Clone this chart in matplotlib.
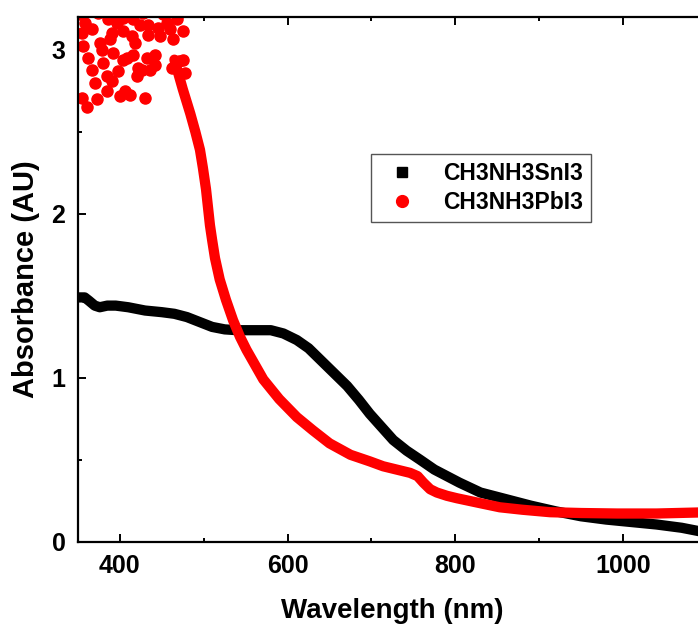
import matplotlib
matplotlib.use("Agg")
import matplotlib.pyplot as plt
from matplotlib.lines import Line2D
from matplotlib.ticker import MultipleLocator

plt.rcParams['font.family'] = ['Liberation Sans', 'DejaVu Sans']
plt.rcParams['font.weight'] = 'bold'

# CH3NH3SnI3 absorbance (smooth trace)
sn_wl = [350, 358, 363, 370, 376, 385, 395, 410, 430, 450, 465, 480, 495, 510, 525,
         540, 560, 580, 595, 611, 625, 639, 655, 671, 685, 698, 712, 726, 742, 758,
         775, 790, 805, 830, 860, 890, 920, 950, 980, 1010, 1040, 1070, 1090, 1100]
sn_abs = [1.49, 1.49, 1.47, 1.44, 1.43, 1.44, 1.44, 1.43, 1.41, 1.40, 1.39, 1.37, 1.34, 1.31, 1.295,
          1.29, 1.29, 1.29, 1.27, 1.23, 1.18, 1.11, 1.03, 0.95, 0.865, 0.78, 0.70, 0.62, 0.555, 0.50,
          0.44, 0.40, 0.36, 0.30, 0.26, 0.22, 0.185, 0.155, 0.135, 0.12, 0.105, 0.085, 0.065, 0.055]

# CH3NH3PbI3 absorbance: saturated, noisy region below ~470 nm
pb_noise_wl = [358.3, 366.3, 354.4, 356.3, 362.3, 366.3, 370.3, 354.4, 360.3, 372.3,
               384.2, 390.2, 384.2, 400.1, 406.0, 412.0, 398.1, 380.2, 378.3, 376.2,
               388.2, 390.2, 386.2, 396.1, 404.0, 414.0, 418.0, 420.0, 421.9, 426.0,
               435.9, 441.8, 431.9, 441.8, 416.0, 408.0, 404.0, 392.1, 429.9, 433.8,
               447.8, 445.8, 433.8, 455.8, 459.7, 467.7, 475.6, 463.7, 461.7, 475.6,
               404.0, 416.0, 424.0, 352.0, 374.0, 395.0, 427.0, 452.0, 470.0, 381.0,
               478.0, 471.0]
pb_noise_abs = [3.165, 3.124, 3.104, 3.022, 2.951, 2.880, 2.798, 2.707, 2.652, 2.701,
                2.839, 2.808, 2.747, 2.717, 2.747, 2.727, 2.869, 2.921, 3.002, 3.043,
                3.063, 3.104, 3.185, 3.165, 3.114, 3.083, 3.043, 2.839, 2.890, 2.880,
                2.880, 2.910, 2.951, 2.971, 2.971, 2.951, 2.941, 2.982, 2.707, 3.093,
                3.083, 3.134, 3.154, 3.165, 3.124, 3.185, 3.114, 3.063, 2.890, 2.941,
                3.195, 3.185, 3.154, 3.220, 3.225, 3.215, 3.222, 3.218, 3.225, 3.230,
                2.86, 2.93]

# CH3NH3PbI3 absorbance: band edge and tail
pb_wl = [465, 475, 484, 490, 495.5, 499, 502.7, 507.4, 510, 513.4, 519, 526.5, 535, 543.2, 551,
         571, 590, 611, 630, 650, 675, 698, 714, 730, 746, 755, 762, 770, 778, 790,
         802, 825, 853, 880, 913, 950, 993, 1040, 1088, 1100]
pb_abs = [2.94, 2.76, 2.61, 2.50, 2.39, 2.28, 2.15, 1.93, 1.84, 1.73, 1.60, 1.475, 1.35, 1.25, 1.17,
          0.99, 0.87, 0.76, 0.68, 0.60, 0.53, 0.49, 0.46, 0.44, 0.42, 0.40, 0.36, 0.32, 0.30, 0.28,
          0.265, 0.24, 0.21, 0.195, 0.18, 0.175, 0.172, 0.172, 0.178, 0.18]

fig = plt.figure(figsize=(6.98, 6.31), dpi=100)
ax = fig.add_axes([0.1117, 0.1415, 0.901, 0.8315])

ax.plot(sn_wl, sn_abs, color='black', lw=7.4, solid_joinstyle='round', solid_capstyle='butt')
ax.plot(pb_wl, pb_abs, color='red', lw=7.4, solid_joinstyle='round', solid_capstyle='round')
ax.plot(pb_noise_wl, pb_noise_abs, 'o', color='red', ms=8, mec='red', ls='none')

ax.set_xlim(350, 1100)
ax.set_ylim(0, 3.2)
ax.xaxis.set_major_locator(MultipleLocator(200))
ax.xaxis.set_minor_locator(MultipleLocator(100))
ax.yaxis.set_major_locator(MultipleLocator(1))
ax.yaxis.set_minor_locator(MultipleLocator(0.5))

for s in ax.spines.values():
    s.set_linewidth(1.6)
ax.tick_params(which='both', direction='in', top=True, right=True, width=1.4)
ax.tick_params(which='major', length=6, labelsize=18, pad=9)
ax.tick_params(which='minor', length=3)
for lab in ax.get_xticklabels() + ax.get_yticklabels():
    lab.set_fontweight('bold')

ax.set_xlabel('Wavelength (nm)', fontsize=20, fontweight='bold', labelpad=14)
ax.set_ylabel('Absorbance (AU)', fontsize=21, fontweight='bold', labelpad=8)

handles = [Line2D([], [], marker='s', color='black', ls='none', ms=7.5),
           Line2D([], [], marker='o', color='red', ls='none', ms=8.5)]
leg = ax.legend(handles, ['CH3NH3SnI3', 'CH3NH3PbI3'], loc='upper left',
                bbox_to_anchor=(0.466, 0.739), borderaxespad=0, fancybox=False,
                framealpha=1, edgecolor='#555555', prop={'size': 16.5, 'weight': 'bold'},
                handlelength=2.0, handletextpad=0.8, borderpad=0.35, labelspacing=0.25)
leg.get_frame().set_linewidth(1.0)

fig.savefig('out.png', dpi=100)
